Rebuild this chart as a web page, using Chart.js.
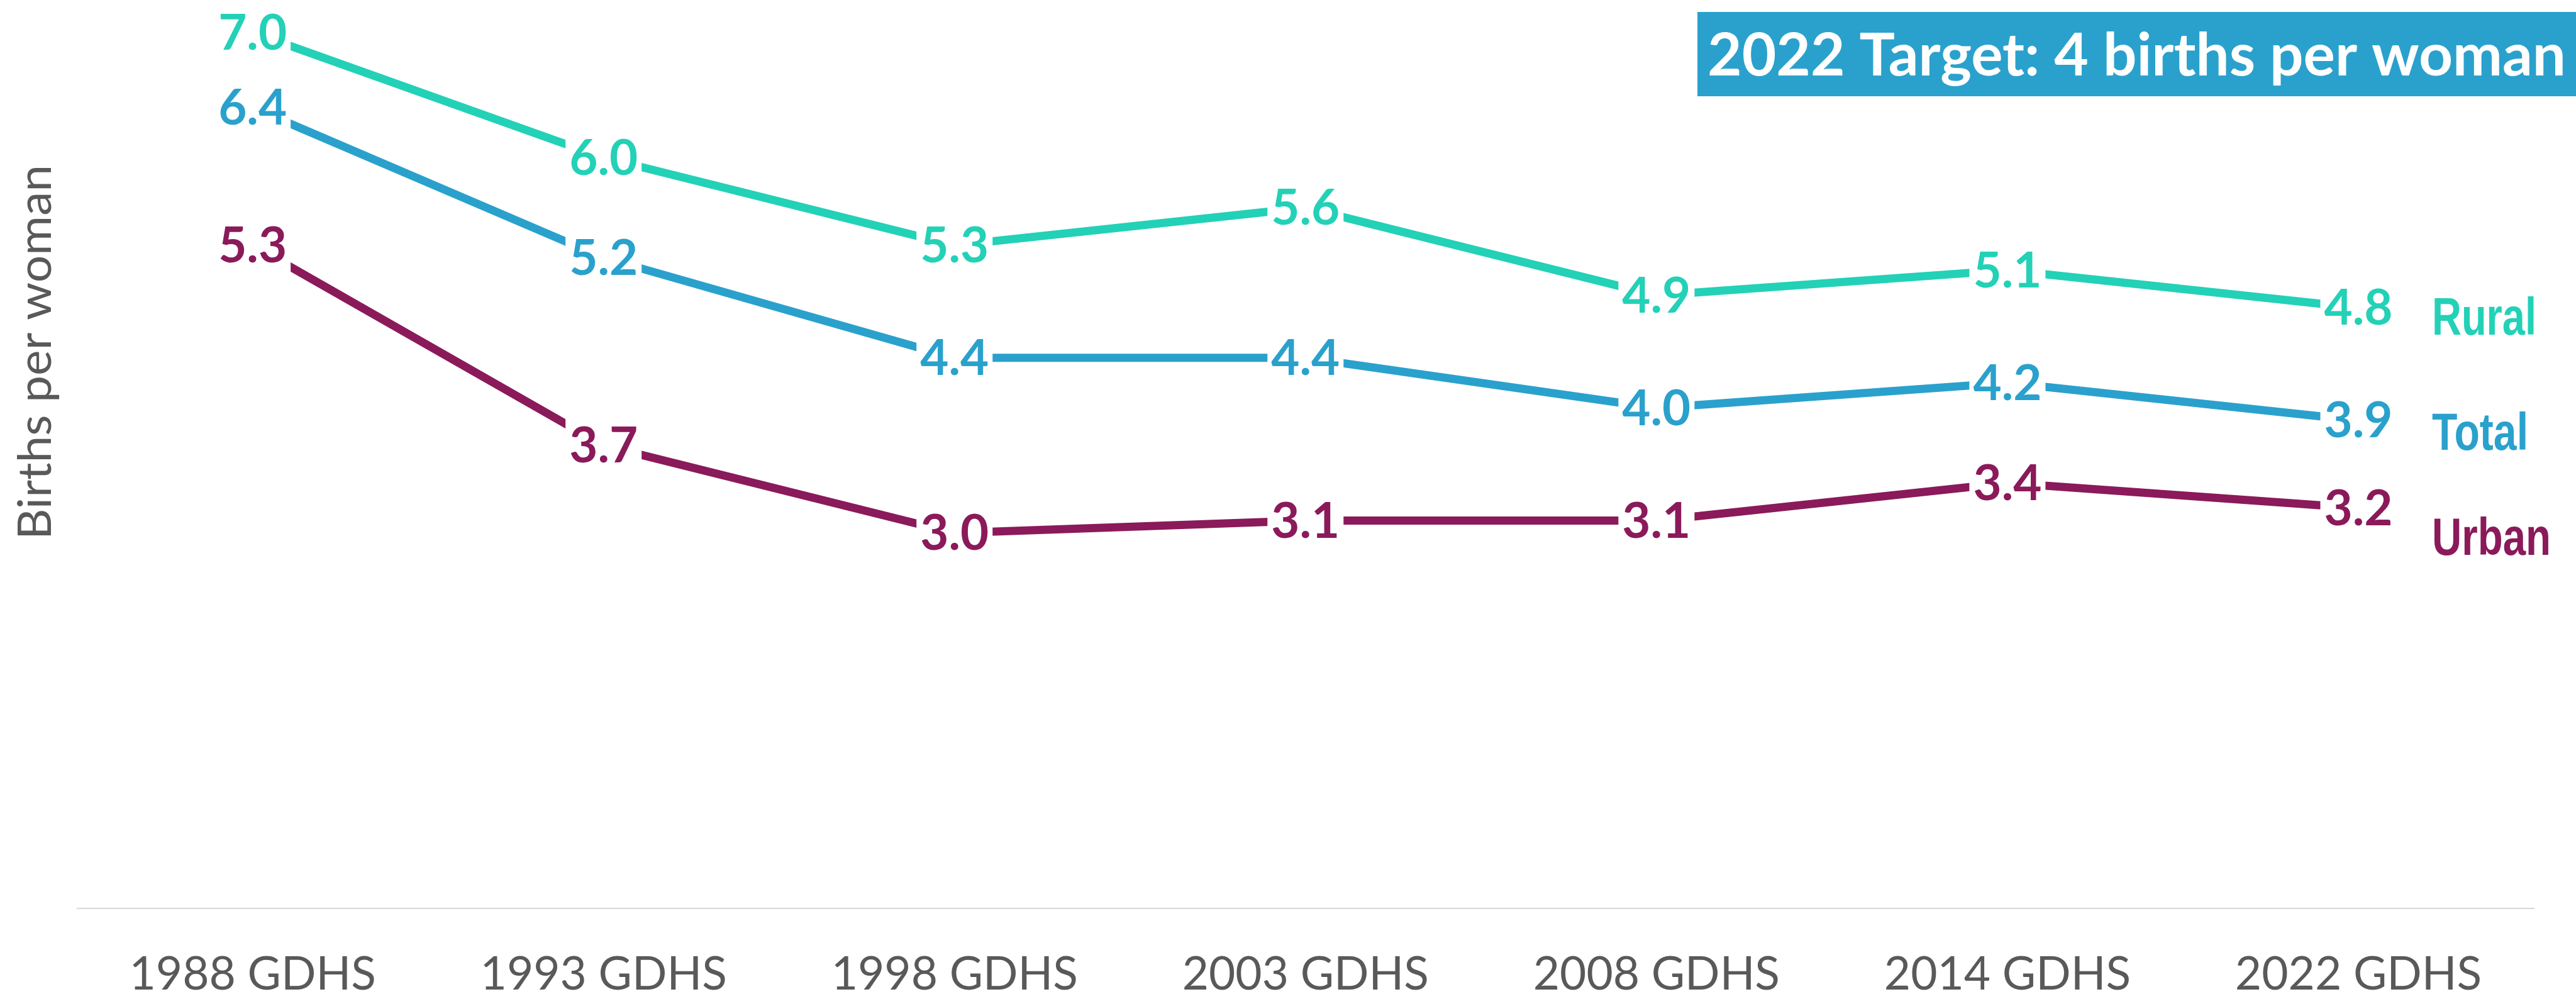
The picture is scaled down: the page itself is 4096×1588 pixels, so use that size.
<!DOCTYPE html>
<html><head><meta charset="utf-8">
<script src="https://cdn.jsdelivr.net/npm/chart.js@4/dist/chart.umd.min.js"></script>
<style>html,body{margin:0;padding:0;background:#fff;overflow:hidden}#wrap{width:4096px;height:1588px;position:relative}</style>
</head><body><div id="wrap"><canvas id="c"></canvas></div>
<script>
// ---- data ----
const categories = ['1988 GDHS','1993 GDHS','1998 GDHS','2003 GDHS','2008 GDHS','2014 GDHS','2022 GDHS'];
const rural = [7.0, 6.0, 5.3, 5.6, 4.9, 5.1, 4.8];
const total = [6.4, 5.2, 4.4, 4.4, 4.0, 4.2, 3.9];
const urban = [5.3, 3.7, 3.0, 3.1, 3.1, 3.4, 3.2];
const seriesNames = ['Rural', 'Total', 'Urban'];
const yAxisTitle = 'Births per woman';
const targetText = '2022 Target: 4 births per woman';

// ---- styles ----
const C_RURAL = '#23D1B7', C_TOTAL = '#2AA1CC', C_URBAN = '#8A1A5A', C_GREY = '#595959';
const nameOffsets = [43, 47, 74];
const nameWidths = [166, 153, 189];

function fitText(ctx, txt, x, y, targetW) {
  const w = ctx.measureText(txt).width;
  const s = targetW / w;
  ctx.save();
  ctx.translate(x, y);
  ctx.scale(s, 1);
  ctx.fillText(txt, 0, 0);
  ctx.restore();
}

const labelPlugin = {
  id: 'customLabels',
  afterDatasetsDraw(chart) {
    const ctx = chart.ctx;
    ctx.save();
    ctx.font = 'bold 78px Lato';
    ctx.textAlign = 'center';
    ctx.textBaseline = 'middle';
    chart.data.datasets.forEach((ds, i) => {
      const meta = chart.getDatasetMeta(i);
      meta.data.forEach((pt, j) => {
        const txt = ds.data[j].toFixed(1);
        const w = ctx.measureText(txt).width;
        ctx.fillStyle = '#ffffff';
        ctx.fillRect(pt.x - w / 2 - 6, pt.y - 48, w + 12, 96);
        ctx.fillStyle = ds.borderColor;
        ctx.fillText(txt, pt.x, pt.y + 2);
      });
    });
    ctx.restore();
  },
  afterDraw(chart) {
    const ctx = chart.ctx;
    const ys = chart.scales.y;
    ctx.save();
    ctx.font = 'bold 84px "Liberation Sans"';
    ctx.textAlign = 'left';
    ctx.textBaseline = 'alphabetic';
    chart.data.datasets.forEach((ds, i) => {
      const last = ds.data[ds.data.length - 1];
      const y = ys.getPixelForValue(last) + nameOffsets[i];
      ctx.fillStyle = ds.borderColor;
      fitText(ctx, seriesNames[i], 3867, y, nameWidths[i]);
    });
    ctx.fillStyle = C_TOTAL;
    ctx.fillRect(2699, 19, 4096 - 2699, 134);
    ctx.fillStyle = '#ffffff';
    ctx.font = 'bold 94px Lato';
    fitText(ctx, targetText, 2715, 120, 1365);
    ctx.fillStyle = C_GREY;
    ctx.font = '74px Lato';
    ctx.textAlign = 'center';
    ctx.textBaseline = 'middle';
    ctx.translate(57, 560);
    ctx.rotate(-Math.PI / 2);
    const w = ctx.measureText(yAxisTitle).width;
    ctx.scale(596 / w, 1);
    ctx.fillText(yAxisTitle, 0, 0);
    ctx.restore();
  }
};

function build() {
  new Chart(document.getElementById('c'), {
    type: 'line',
    data: {
      labels: categories,
      datasets: [
        { label: seriesNames[0], data: rural, borderColor: C_RURAL, backgroundColor: C_RURAL },
        { label: seriesNames[1], data: total, borderColor: C_TOTAL, backgroundColor: C_TOTAL },
        { label: seriesNames[2], data: urban, borderColor: C_URBAN, backgroundColor: C_URBAN }
      ]
    },
    options: {
      responsive: true,
      maintainAspectRatio: false,
      animation: false,
      devicePixelRatio: 1,
      layout: { padding: { top: 0, left: 0, right: 67, bottom: 0 } },
      datasets: { line: { borderWidth: 13, pointRadius: 0, pointHoverRadius: 0, tension: 0, clip: false, fill: false, borderCapStyle: 'butt' } },
      plugins: { legend: { display: false }, tooltip: { enabled: false }, title: { display: false } },
      scales: {
        x: {
          type: 'category',
          offset: true,
          grid: { display: false, drawTicks: false },
          border: { display: true, color: '#D9D9D9', width: 2 },
          ticks: { color: C_GREY, font: { family: 'Lato', size: 73, lineHeight: 1 }, padding: 69, maxRotation: 0, autoSkip: false },
          afterFit: s => { s.height = 144; }
        },
        y: {
          min: 0, max: 7.26,
          grid: { display: false, drawTicks: false },
          border: { display: false },
          ticks: { display: false },
          title: { display: false },
          afterFit: s => { s.width = 122.6; }
        }
      }
    },
    plugins: [labelPlugin]
  });
}

Promise.all([
  document.fonts.load('74px Lato'),
  document.fonts.load('bold 74px Lato'),
  document.fonts.load('bold 84px "Liberation Sans"')
]).then(build, build);
</script>
</body></html>
